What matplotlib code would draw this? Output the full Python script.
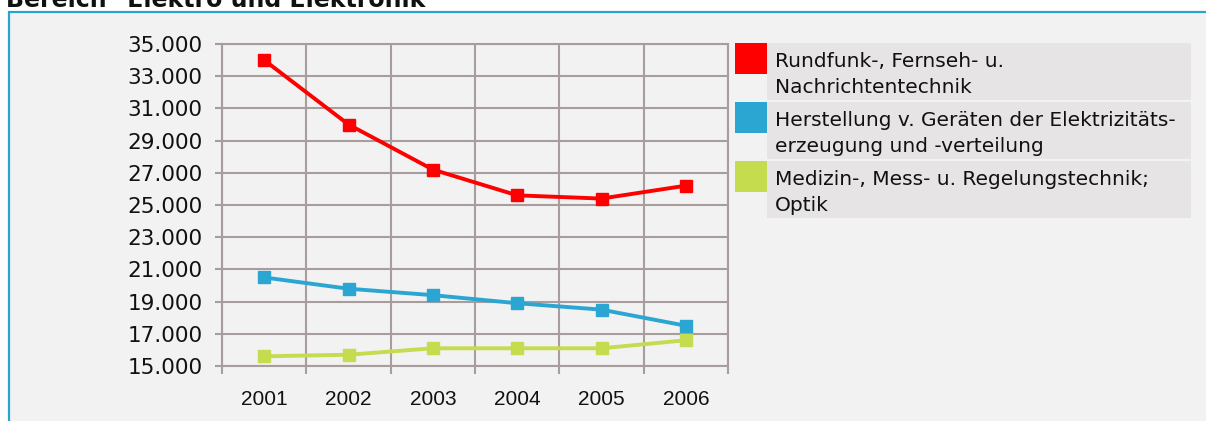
import matplotlib
matplotlib.use('Agg')
import matplotlib.pyplot as plt
from matplotlib.patches import Rectangle

# data
years = ['2001', '2002', '2003', '2004', '2005', '2006']
rundfunk = [34000, 30000, 27200, 25600, 25400, 26200]
herstellung = [20500, 19800, 19400, 18900, 18500, 17500]
medizin = [15600, 15700, 16100, 16100, 16100, 16600]
y_ticks = list(range(15000, 35001, 2000))

series_names = [['Rundfunk-, Fernseh- u.', 'Nachrichtentechnik'],
                ['Herstellung v. Geräten der Elektrizitäts-', 'erzeugung und -verteilung'],
                ['Medizin-, Mess- u. Regelungstechnik;', 'Optik']]
colors = ['#ff0000', '#2ba6d3', '#c4dc4e']
title = 'Bereich "Elektro und Elektronik"'

W, H = 1206, 421
fig = plt.figure(figsize=(W / 100, H / 100), dpi=100)
fig.patch.set_facecolor('white')

def fx(px):
    return px / W

def fy(py):
    return 1 - py / H

# panel with blue border (top and left visible)
fig.patches.append(Rectangle((fx(9), fy(440)), fx(1250), fy(12) - fy(440),
                             transform=fig.transFigure, facecolor='#f2f2f2',
                             edgecolor='#2aa3cf', linewidth=1.6, zorder=-5))

# title is cut by the top edge, as in the original
fig.text(fx(6), fy(7), title, fontsize=17, fontweight='bold',
         va='baseline', ha='left', color='#111111')

grid_c = '#a89c9c'
ax = fig.add_axes([fx(222), fy(366), fx(728) - fx(222), fy(44) - fy(366)])
ax.set_zorder(3)
ax.set_facecolor('#f2f2f2')
x = list(range(len(years)))
for vals, c in zip([rundfunk, herstellung, medizin], colors):
    ax.plot(x, vals, color=c, lw=2.8, marker='s', ms=9, zorder=3)

ax.set_xlim(-0.5, len(years) - 0.5)
ax.set_ylim(15000, 35000)
ax.set_yticks(y_ticks)
ax.set_yticklabels([f'{v:,}'.replace(',', '.') for v in y_ticks],
                   fontsize=15.5, family='DejaVu Sans', color='#111111')
ax.set_xticks(x)
ax.set_xticklabels(years, fontsize=15, family='Liberation Sans', color='#111111')
ax.set_xticks([i - 0.5 for i in range(len(years) + 1)], minor=True)
ax.tick_params(axis='x', which='major', length=0, pad=17)
ax.tick_params(axis='x', which='minor', length=6, color=grid_c, width=1.5)
ax.tick_params(axis='y', length=5, color=grid_c, width=1.5, pad=9)
ax.grid(True, axis='y', color=grid_c, lw=1.5)
ax.grid(True, axis='x', which='minor', color=grid_c, lw=1.5)
ax.set_axisbelow(True)
for s in ax.spines.values():
    s.set_color(grid_c)
    s.set_linewidth(1.5)

# legend boxes
for i, (lines, c) in enumerate(zip(series_names, colors)):
    top = 43 + i * 59
    fig.patches.append(Rectangle((fx(767), fy(top + 57)), fx(1191) - fx(767),
                                 fy(top) - fy(top + 57), transform=fig.transFigure,
                                 facecolor='#e6e4e4', edgecolor='none', zorder=1))
    fig.patches.append(Rectangle((fx(735), fy(top + 31)), fx(767) - fx(735),
                                 fy(top) - fy(top + 31), transform=fig.transFigure,
                                 facecolor=c, edgecolor='none', zorder=1))
    for j, line in enumerate(lines):
        fig.text(fx(775), fy(top + 24 + j * 26), line, fontsize=14.5,
                 va='baseline', ha='left', color='#111111', zorder=2)

fig.savefig('out.png', dpi=100)
